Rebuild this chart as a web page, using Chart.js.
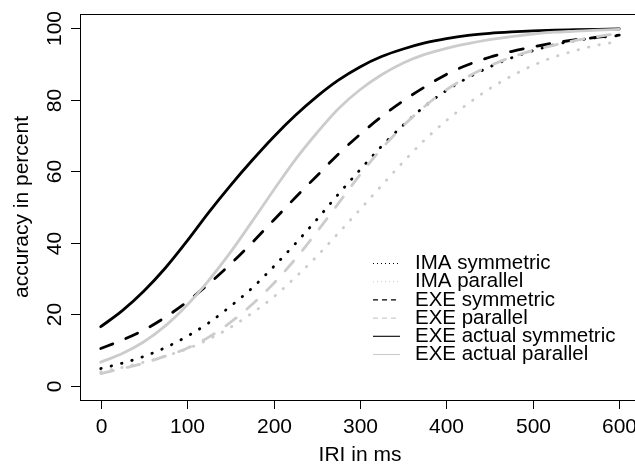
<!DOCTYPE html>
<html>
<head>
<meta charset="utf-8">
<script src="https://cdn.jsdelivr.net/npm/chart.js@4"></script>
<style>
    html, body { margin: 0; padding: 0; background: #fff; overflow: hidden; }
    canvas { display: block; }
</style>
</head>
<body>
<canvas id="accuracyChart" width="645" height="469"></canvas>
<script>
// IRI values (ms) the curves are read at
const iri = [0, 25, 50, 75, 100, 125, 150, 175, 200, 225, 250, 275, 300,
    325, 350, 375, 400, 425, 450, 475, 500, 525, 550, 575, 600];

// Accuracy in percent
const imaSymmetric = [4.8, 6.3, 8.2, 10.7, 13.8, 17.6, 22.2, 27.3, 33.3, 39.7, 46.5, 53.6, 60.4,
    67.0, 72.9, 78.2, 82.6, 86.2, 89.2, 91.7, 93.7, 95.4, 96.6, 97.4, 98.0];
const imaParallel = [3.9, 5.1, 6.6, 8.3, 10.3, 13.0, 16.3, 20.3, 24.8, 30.3, 36.2, 42.7, 49.3,
    56.0, 62.6, 68.8, 74.2, 78.9, 83.1, 86.6, 89.6, 92.0, 93.8, 95.3, 96.3];
const exeSymmetric = [10.4, 12.8, 15.6, 19.2, 23.5, 28.5, 34.0, 40.0, 46.3, 52.6, 58.7, 64.8, 70.3,
    75.3, 79.7, 83.6, 87.1, 89.8, 91.9, 93.5, 94.8, 95.9, 96.8, 97.5, 98.1];
const exeParallel = [3.4, 4.8, 6.3, 8.3, 10.5, 13.6, 17.7, 22.7, 28.6, 35.4, 43.0, 51.0, 59.0,
    66.3, 72.7, 78.2, 82.8, 86.5, 89.5, 91.9, 93.8, 95.3, 96.6, 97.7, 98.6];
const exeActualSymmetric = [16.5, 21.0, 26.5, 33.0, 40.5, 48.5, 56.0, 63.0, 69.6, 75.6, 80.9, 85.5, 89.2,
    92.1, 94.2, 95.9, 97.1, 98.0, 98.6, 99.0, 99.3, 99.5, 99.6, 99.7, 99.8];
const exeActualParallel = [6.6, 9.0, 12.3, 16.8, 22.6, 29.5, 37.3, 45.9, 54.7, 63.2, 70.7, 77.5, 82.8,
    87.0, 90.3, 92.7, 94.4, 95.7, 96.8, 97.7, 98.4, 98.9, 99.2, 99.5, 99.7];

// Axis ticks
const xTicks = [0, 100, 200, 300, 400, 500, 600];
const yTicks = [0, 20, 40, 60, 80, 100];

const GRAY = '#cccccc';
const FONT = '"Liberation Sans", Arial, Helvetica, sans-serif';

// Line styles (R-like lty)
const dotted = [0.5, 10.2];
const dashed = [13, 14];

const series = [
    { label: 'IMA symmetric', data: imaSymmetric, color: '#000', dash: dotted, legendDash: [1, 3] },
    { label: 'IMA parallel', data: imaParallel, color: GRAY, dash: dotted, legendDash: [1, 3] },
    { label: 'EXE symmetric', data: exeSymmetric, color: '#000', dash: dashed, legendDash: [5, 4] },
    { label: 'EXE parallel', data: exeParallel, color: GRAY, dash: dashed, legendDash: [5, 4] },
    { label: 'EXE actual symmetric', data: exeActualSymmetric, color: '#000', dash: [], legendDash: [] },
    { label: 'EXE actual parallel', data: exeActualParallel, color: GRAY, dash: [], legendDash: [] }
];

// Draws the R style box, axes, titles and legend
const rStyle = {
    id: 'rStyle',
    afterDraw(chart) {
        const { ctx, chartArea: a, scales: { x, y } } = chart;
        ctx.save();
        ctx.strokeStyle = '#000';
        ctx.lineWidth = 1;
        ctx.setLineDash([]);
        ctx.strokeRect(a.left + 0.5, a.top + 0.5, a.right - a.left, a.bottom - a.top);

        ctx.fillStyle = '#000';
        ctx.font = `21px ${FONT}`;
        ctx.textAlign = 'center';
        ctx.textBaseline = 'middle';

        // x axis
        xTicks.forEach(v => {
            const px = Math.round(x.getPixelForValue(v)) + 0.5;
            ctx.beginPath();
            ctx.moveTo(px, a.bottom);
            ctx.lineTo(px, a.bottom + 9);
            ctx.stroke();
            ctx.fillText(String(v), px, a.bottom + 27);
        });

        // y axis (labels parallel to the axis)
        yTicks.forEach(v => {
            const py = Math.round(y.getPixelForValue(v)) + 0.5;
            ctx.beginPath();
            ctx.moveTo(a.left - 9, py);
            ctx.lineTo(a.left, py);
            ctx.stroke();
            ctx.save();
            ctx.translate(a.left - 25, py);
            ctx.rotate(-Math.PI / 2);
            ctx.fillText(String(v), 0, 0);
            ctx.restore();
        });

        // axis titles
        ctx.fillText('IRI in ms', (a.left + a.right) / 2, 455);
        ctx.save();
        ctx.translate(22, (a.top + a.bottom) / 2);
        ctx.rotate(-Math.PI / 2);
        ctx.fillText('accuracy in percent', 0, 0);
        ctx.restore();

        // legend
        ctx.font = `20.5px ${FONT}`;
        ctx.textAlign = 'left';
        series.forEach((s, i) => {
            const ly = 263.5 + i * 18.2;
            ctx.beginPath();
            ctx.strokeStyle = s.color;
            ctx.lineWidth = 1.1;
            ctx.setLineDash(s.legendDash);
            ctx.moveTo(373, ly);
            ctx.lineTo(400, ly);
            ctx.stroke();
            ctx.fillText(s.label, 415, ly);
        });
        ctx.restore();
    }
};

const ctx = document.getElementById('accuracyChart').getContext('2d');
const accuracyChart = new Chart(ctx, {
    type: 'line',
    data: {
        datasets: series.map((s, i) => ({
            label: s.label,
            data: iri.map((v, j) => ({ x: v, y: s.data[j] })),
            borderColor: s.color,
            borderWidth: 2.8,
            borderDash: s.dash,
            borderCapStyle: 'round',
            borderJoinStyle: 'round',
            pointRadius: 0,
            fill: false,
            cubicInterpolationMode: 'monotone',
            // first series drawn first, last one on top
            order: series.length - 1 - i
        }))
    },
    options: {
        responsive: false,
        devicePixelRatio: 1,
        animation: false,
        layout: { padding: { left: 80, top: 14, right: 5, bottom: 69 } },
        scales: {
            x: { type: 'linear', min: -24, max: 624, display: false },
            y: { min: -4, max: 104, display: false }
        },
        plugins: {
            legend: { display: false },
            tooltip: { enabled: false }
        }
    },
    plugins: [rStyle]
});
</script>
</body>
</html>
